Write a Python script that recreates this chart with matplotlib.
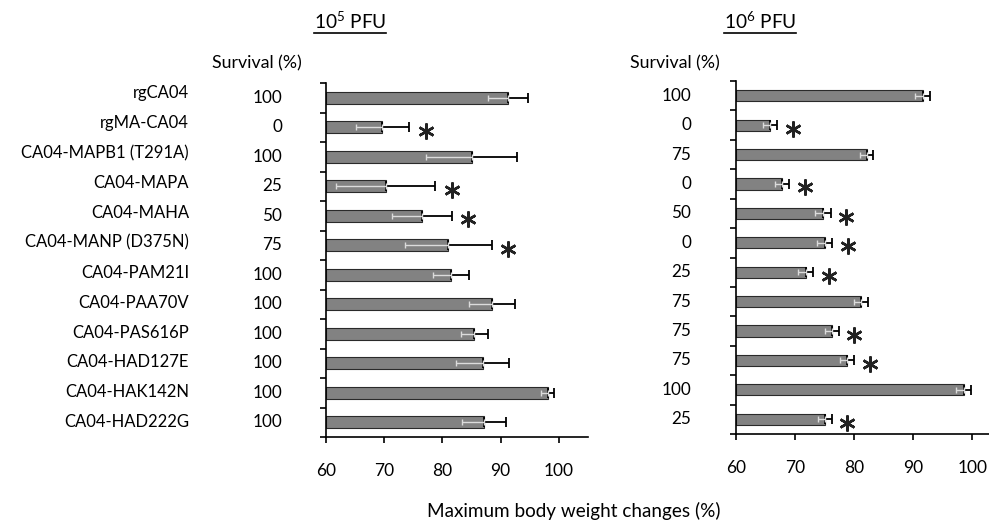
import matplotlib
matplotlib.use("Agg")
import matplotlib.pyplot as plt
import matplotlib.transforms as mtransforms
import numpy as np

plt.rcParams['font.family'] = ['Lato', 'DejaVu Sans']

categories = ["rgCA04", "rgMA-CA04", "CA04-MAPB1 (T291A)", "CA04-MAPA", "CA04-MAHA",
              "CA04-MANP (D375N)", "CA04-PAM21I", "CA04-PAA70V", "CA04-PAS616P",
              "CA04-HAD127E", "CA04-HAK142N", "CA04-HAD222G"]

# 10^5 PFU
weight_1e5 = [91.3, 69.7, 85.0, 70.3, 76.5, 81.0, 81.5, 88.5, 85.5, 86.9, 98.1, 87.2]
err_1e5 = [3.4, 4.6, 7.8, 8.5, 5.1, 7.5, 3.1, 4.0, 2.3, 4.5, 1.1, 3.8]
surv_1e5 = [100, 0, 100, 25, 50, 75, 100, 100, 100, 100, 100, 100]
sig_1e5 = [0, 1, 0, 1, 1, 1, 0, 0, 0, 0, 0, 0]

# 10^6 PFU
weight_1e6 = [91.6, 65.8, 82.1, 67.8, 74.7, 75.0, 71.8, 81.1, 76.2, 78.8, 98.5, 75.0]
err_1e6 = [1.3, 1.2, 1.1, 1.2, 1.3, 1.3, 1.3, 1.2, 1.2, 1.2, 1.2, 1.2]
surv_1e6 = [100, 0, 75, 0, 50, 0, 25, 75, 75, 75, 100, 25]
sig_1e6 = [0, 1, 0, 1, 1, 1, 1, 0, 1, 1, 0, 1]

xticks = [60, 70, 80, 90, 100]

W, H = 989, 522
fig = plt.figure(figsize=(W / 100, H / 100), dpi=100)

def px_axes(x0, x1, ytop, ybot):
    return fig.add_axes([x0 / W, 1 - ybot / H, (x1 - x0) / W, (ybot - ytop) / H])

axL = px_axes(326, 588, 83, 437)
axR = px_axes(736, 989, 81, 434)

bar_color = '#828282'

def draw_panel(ax, vals, errs, sig, surv, xmax, num_x, star_off, bar_h):
    n = len(vals)
    y = np.arange(n)
    ax.barh(y, np.array(vals) - 60, left=60, height=bar_h, color=bar_color,
            edgecolor='#2a2a2a', linewidth=0.8, zorder=2)
    # upper error (black)
    ax.errorbar(vals, y, xerr=[np.zeros(n), errs], fmt='none', ecolor='black',
                elinewidth=1.3, capsize=3.5, capthick=1.3, zorder=3)
    # lower error (light, inside bar)
    ax.errorbar(vals, y, xerr=[errs, np.zeros(n)], fmt='none', ecolor='#dcdcdc',
                elinewidth=1.0, capsize=2.5, capthick=1.0, zorder=3)
    for i in range(n):
        if sig[i]:
            ax.plot(vals[i] + errs[i] + star_off, i + 0.12, marker=(6, 2, 0),
                    markersize=11.5, color='#222222', markeredgewidth=1.8,
                    clip_on=False, zorder=4)
    ax.set_xlim(60, xmax)
    ax.set_ylim(n - 0.5, -0.5)
    ax.set_xticks(xticks)
    ax.set_xticklabels([str(t) for t in xticks], fontsize=12.5)
    ax.set_yticks(np.arange(-0.5, n, 1.0))
    ax.set_yticklabels([])
    for s in ['top', 'right']:
        ax.spines[s].set_visible(False)
    for s in ['left', 'bottom']:
        ax.spines[s].set_linewidth(1.2)
    ax.tick_params(axis='x', direction='out', length=4, width=1.2, pad=15)
    ax.tick_params(axis='y', direction='out', length=4, width=1.2)
    tr = mtransforms.blended_transform_factory(fig.transFigure, ax.transData)
    for i in range(n):
        ax.text(num_x / W, i, str(surv[i]), transform=tr, ha='right',
                va='center', fontsize=12.3)
    return tr

trL = draw_panel(axL, weight_1e5, err_1e5, sig_1e5, surv_1e5, 105, 282, 2.8, 0.4)
trR = draw_panel(axR, weight_1e6, err_1e6, sig_1e6, surv_1e6, 102.8, 691, 2.6, 0.38)

for i, c in enumerate(categories):
    axL.text(189 / W, i - 0.15 * (11 - i) / 11, c, transform=trL, ha='right',
             va='center', fontsize=12)

fig.text(212 / W, 1 - 63 / H, "Survival (%)", ha='left', va='center', fontsize=12.8)
fig.text(630 / W, 1 - 63 / H, "Survival (%)", ha='left', va='center', fontsize=12.8)

tL = fig.text(350 / W, 1 - 21 / H, r"10$^{\mathregular{5}}$ PFU", ha='center',
              va='center', fontsize=13.8)
tR = fig.text(760 / W, 1 - 21 / H, r"10$^{\mathregular{6}}$ PFU", ha='center',
              va='center', fontsize=13.8)

fig.text(574 / W, 1 - 511 / H, "Maximum body weight changes (%)", ha='center',
         va='center', fontsize=13.6)

fig.canvas.draw()
r = fig.canvas.get_renderer()
for t in (tL, tR):
    bb = t.get_window_extent(renderer=r)
    yline = 1 - 33 / H
    fig.add_artist(plt.Line2D([bb.x0 / W, bb.x1 / W], [yline, yline],
                              transform=fig.transFigure, color='black', lw=1.2))

fig.savefig("out.png", dpi=100)
